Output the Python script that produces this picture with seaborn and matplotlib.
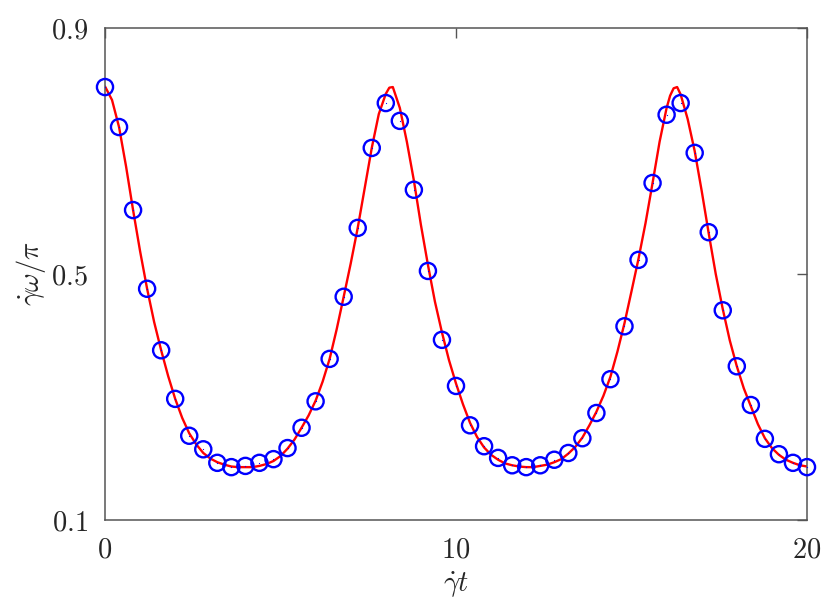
import matplotlib
matplotlib.use("Agg")
import matplotlib.pyplot as plt
import pandas as pd
import seaborn as sns

# sampled points (circles)
t_pts = [0.0, 0.4, 0.8, 1.2, 1.6, 2.0, 2.4, 2.8, 3.2, 3.6,
         4.0, 4.4, 4.8, 5.2, 5.6, 6.0, 6.4, 6.8, 7.2, 7.6,
         8.0, 8.4, 8.8, 9.2, 9.6, 10.0, 10.4, 10.8, 11.2, 11.6,
         12.0, 12.4, 12.8, 13.2, 13.6, 14.0, 14.4, 14.8, 15.2, 15.6,
         16.0, 16.4, 16.8, 17.2, 17.6, 18.0, 18.4, 18.8, 19.2, 19.6, 20.0]
w_pts = [0.804, 0.739, 0.604, 0.476, 0.376, 0.297, 0.237, 0.215, 0.193, 0.186,
         0.188, 0.193, 0.199, 0.217, 0.250, 0.293, 0.362, 0.463, 0.575, 0.705,
         0.778, 0.749, 0.637, 0.505, 0.393, 0.318, 0.254, 0.220, 0.201, 0.189,
         0.186, 0.189, 0.198, 0.209, 0.233, 0.274, 0.329, 0.415, 0.523, 0.648,
         0.759, 0.778, 0.697, 0.568, 0.441, 0.350, 0.287, 0.232, 0.207, 0.193, 0.186]

# red curve
t_line = [0.0, 0.2, 0.4, 0.6, 0.8, 1.0, 1.2, 1.4, 1.6, 1.8,
          2.0, 2.2, 2.4, 2.6, 2.8, 3.0, 3.2, 3.4, 3.6, 3.8,
          4.0, 4.2, 4.4, 4.6, 4.8, 5.0, 5.2, 5.4, 5.6, 5.8,
          6.0, 6.2, 6.4, 6.6, 6.8, 7.0, 7.2, 7.4, 7.6, 7.8,
          8.0, 8.1, 8.2, 8.4, 8.6, 8.8, 9.0, 9.2, 9.4, 9.6, 9.8,
          10.0, 10.2, 10.4, 10.6, 10.8, 11.0, 11.2, 11.4, 11.6, 11.8,
          12.0, 12.2, 12.4, 12.6, 12.8, 13.0, 13.2, 13.4, 13.6, 13.8,
          14.0, 14.2, 14.4, 14.6, 14.8, 15.0, 15.2, 15.4, 15.6, 15.8,
          16.0, 16.1, 16.2, 16.3, 16.4, 16.6, 16.8, 17.0, 17.2, 17.4, 17.6, 17.8,
          18.0, 18.2, 18.4, 18.6, 18.8, 19.0, 19.2, 19.4, 19.6, 19.8, 20.0]
w_line = [0.805, 0.783, 0.739, 0.675, 0.604, 0.537, 0.476, 0.422, 0.376, 0.334,
          0.297, 0.266, 0.241, 0.223, 0.209, 0.200, 0.194, 0.190, 0.187, 0.186,
          0.186, 0.186, 0.188, 0.191, 0.196, 0.204, 0.216, 0.231, 0.250, 0.270,
          0.294, 0.325, 0.362, 0.410, 0.463, 0.517, 0.575, 0.640, 0.705, 0.760,
          0.793, 0.803, 0.804, 0.770, 0.715, 0.652, 0.580, 0.515, 0.455, 0.405, 0.360,
          0.322, 0.288, 0.258, 0.235, 0.218, 0.206, 0.198, 0.192, 0.189, 0.187,
          0.186, 0.186, 0.188, 0.190, 0.194, 0.199, 0.208, 0.219, 0.234, 0.254,
          0.276, 0.302, 0.333, 0.374, 0.420, 0.472, 0.525, 0.583, 0.648, 0.715,
          0.770, 0.790, 0.802, 0.804, 0.792, 0.752, 0.700, 0.635, 0.566, 0.500, 0.443, 0.392,
          0.350, 0.314, 0.285, 0.256, 0.233, 0.217, 0.206, 0.198, 0.193, 0.189, 0.187]

x_ticks = [0, 10, 20]
y_ticks = [0.1, 0.5, 0.9]

sns.set_style("white")
plt.rcParams["mathtext.fontset"] = "cm"
plt.rcParams["font.family"] = ["DejaVu Serif"]

df_line = pd.DataFrame({"t": t_line, "w": w_line})
df_pts = pd.DataFrame({"t": t_pts, "w": w_pts})

fig = plt.figure(figsize=(8.3, 6.09), dpi=100)
ax = fig.add_axes([0.1265, 0.1461, 0.8458, 0.8079])

sns.lineplot(data=df_line, x="t", y="w", color="red", linewidth=1.7, ax=ax, zorder=2)
sns.scatterplot(data=df_pts, x="t", y="w", marker="o", s=135, facecolors="none",
                edgecolor="blue", linewidth=1.7, ax=ax, zorder=3, clip_on=False)
# tiny dot in the middle of each circle
sns.scatterplot(data=df_pts, x="t", y="w", marker=".", s=3, color="blue",
                linewidth=0, ax=ax, zorder=4, clip_on=False)

ax.set_xlim(0, 20)
ax.set_ylim(0.1, 0.9)
ax.set_xticks(x_ticks)
ax.set_yticks(y_ticks)
ax.set_xticklabels([f"${v}$" for v in x_ticks])
ax.set_yticklabels([f"${v}$" for v in y_ticks])
ax.tick_params(direction="in", length=7, width=1, color="#555555",
               top=True, right=True, labelsize=20.5, pad=12)

for sp in ax.spines.values():
    sp.set_color("#555555")
    sp.set_linewidth(1.1)

ax.set_xlabel(r"$\dot{\gamma} t$", fontsize=20.5, labelpad=4)
ax.set_ylabel(r"$\dot{\gamma}\omega/\pi$", fontsize=20.5, labelpad=2)

fig.savefig("out.png", dpi=100)
